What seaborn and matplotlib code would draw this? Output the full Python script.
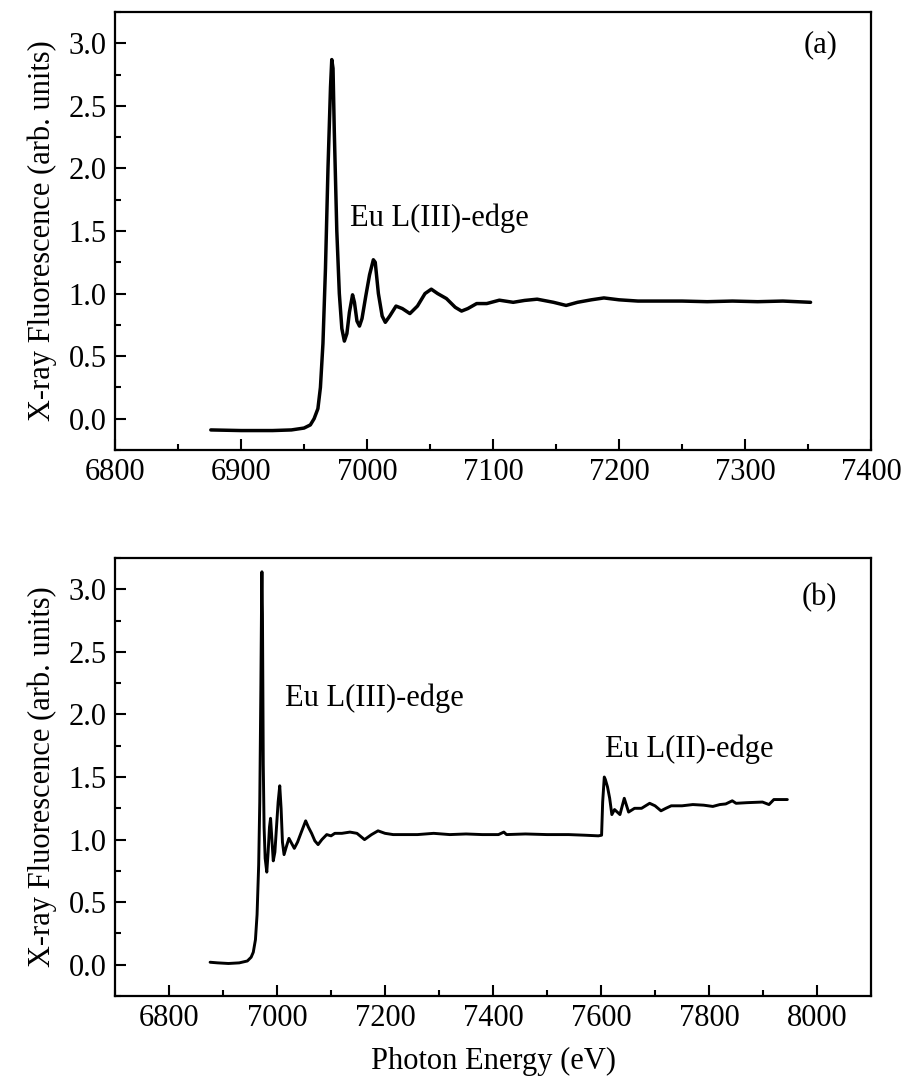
import numpy as np
import pandas as pd
import matplotlib
matplotlib.use("Agg")
import matplotlib.pyplot as plt
from matplotlib.ticker import MultipleLocator
import seaborn as sns

# ---- data ----
energy_a = [6876, 6900, 6925, 6940, 6950, 6955, 6958, 6961, 6963, 6965, 6967, 6969, 6971, 6972,
            6973, 6974, 6976, 6978, 6980, 6982, 6984, 6986, 6988.5, 6990, 6992, 6994, 6996, 6999,
            7002, 7005, 7006.5, 7009, 7012, 7014.5, 7018, 7023, 7028, 7034, 7040, 7046, 7051,
            7056, 7063, 7070, 7075, 7080, 7087, 7095, 7105, 7116, 7125, 7135, 7148, 7158, 7167,
            7178, 7188, 7200, 7215, 7230, 7250, 7270, 7290, 7310, 7330, 7352]
xrf_a = [-0.09, -0.095, -0.095, -0.09, -0.075, -0.05, 0.0, 0.08, 0.25, 0.6, 1.2, 2.0, 2.65, 2.87,
         2.8, 2.3, 1.5, 1.0, 0.72, 0.62, 0.68, 0.85, 0.99, 0.93, 0.78, 0.74, 0.8, 0.98,
         1.15, 1.27, 1.25, 1.0, 0.82, 0.77, 0.82, 0.9, 0.88, 0.84, 0.9, 1.0, 1.035,
         1.0, 0.96, 0.89, 0.86, 0.88, 0.92, 0.92, 0.947, 0.93, 0.945, 0.955, 0.93, 0.905, 0.93,
         0.95, 0.965, 0.95, 0.94, 0.94, 0.94, 0.935, 0.94, 0.935, 0.94, 0.93]

energy_b = [6876, 6890, 6910, 6930, 6945, 6952, 6956, 6960, 6963, 6966, 6968, 6970, 6971.5, 6972,
            6973, 6974.5, 6976, 6978, 6981, 6983.5, 6986, 6988, 6990.5, 6993, 6996, 6999, 7002,
            7005, 7007.5, 7010, 7013, 7017, 7022, 7027, 7032, 7038, 7045, 7053, 7058, 7064, 7070,
            7076, 7083, 7092, 7100, 7107, 7120, 7135, 7148, 7162, 7175, 7187, 7200, 7215, 7240,
            7260, 7290, 7320, 7350, 7380, 7410, 7420, 7425, 7460, 7500, 7540, 7570, 7595, 7601,
            7603, 7606, 7608, 7612, 7616, 7620, 7625, 7630, 7635, 7643, 7651, 7662, 7675, 7690,
            7700, 7711, 7720, 7730, 7750, 7770, 7790, 7807, 7820, 7831, 7843, 7850, 7870, 7899,
            7911, 7920, 7935, 7945]
xrf_b = [0.02, 0.015, 0.01, 0.015, 0.03, 0.06, 0.1, 0.2, 0.4, 0.8, 1.3, 2.2, 3.0, 3.14,
         2.8, 1.6, 1.1, 0.85, 0.74, 0.9, 1.1, 1.17, 1.0, 0.83, 0.9, 1.1, 1.3,
         1.43, 1.25, 0.98, 0.88, 0.94, 1.01, 0.97, 0.93, 0.98, 1.06, 1.15, 1.1, 1.05, 0.99,
         0.96, 1.0, 1.04, 1.03, 1.05, 1.05, 1.06, 1.05, 1.0, 1.04, 1.07, 1.05, 1.04, 1.04,
         1.04, 1.05, 1.04, 1.045, 1.04, 1.04, 1.06, 1.04, 1.045, 1.04, 1.04, 1.035, 1.03, 1.035,
         1.3, 1.5, 1.48, 1.42, 1.33, 1.2, 1.24, 1.22, 1.2, 1.33, 1.22, 1.25, 1.25, 1.29,
         1.27, 1.23, 1.25, 1.27, 1.27, 1.28, 1.275, 1.265, 1.28, 1.285, 1.31, 1.29, 1.295, 1.30,
         1.28, 1.32, 1.32, 1.32]

y_ticks = [0.0, 0.5, 1.0, 1.5, 2.0, 2.5, 3.0]
x_ticks_a = [6800, 6900, 7000, 7100, 7200, 7300, 7400]
x_ticks_b = [6800, 7000, 7200, 7400, 7600, 7800, 8000]

sns.set_style("ticks")
plt.rcParams["font.family"] = ["Liberation Serif", "DejaVu Serif"]
for key in ["text.color", "axes.labelcolor", "xtick.color", "ytick.color", "axes.edgecolor"]:
    plt.rcParams[key] = "black"
FS = 22

fig = plt.figure(figsize=(9.08, 10.85), dpi=100)
ax_a = fig.add_axes([0.1267, 0.5853, 0.8326, 0.4036])
ax_b = fig.add_axes([0.1267, 0.0820, 0.8326, 0.4037])

df_a = pd.DataFrame({"E": energy_a, "I": xrf_a})
df_b = pd.DataFrame({"E": energy_b, "I": xrf_b})
sns.lineplot(data=df_a, x="E", y="I", ax=ax_a, color="black", lw=2.5, sort=False, estimator=None)
sns.lineplot(data=df_b, x="E", y="I", ax=ax_b, color="black", lw=2.1, sort=False, estimator=None)

def style(ax, xlim, xticks, xminor):
    ax.set_xlim(*xlim)
    ax.set_ylim(-0.25, 3.25)
    ax.set_xticks(xticks)
    ax.set_xticklabels([str(t) for t in xticks])
    ax.set_yticks(y_ticks)
    ax.set_yticklabels([f"{t:.1f}" for t in y_ticks])
    ax.xaxis.set_minor_locator(MultipleLocator(xminor))
    ax.yaxis.set_minor_locator(MultipleLocator(0.25))
    ax.tick_params(which="both", direction="in", labelsize=FS, width=1.5, colors="black")
    ax.tick_params(which="major", length=8, pad=6)
    ax.tick_params(which="minor", length=4)
    for s in ax.spines.values():
        s.set_visible(True)
        s.set_linewidth(1.6)
        s.set_color("black")
    ax.set_ylabel("X-ray Fluorescence (arb. units)", fontsize=FS, labelpad=8, color="black")
    ax.set_xlabel("")

style(ax_a, (6800, 7400), x_ticks_a, 50)
style(ax_b, (6700, 8100), x_ticks_b, 100)
ax_b.set_xlabel("Photon Energy (eV)", fontsize=FS, labelpad=10, color="black")

ax_a.text(6986.5, 1.60, "Eu L(III)-edge", fontsize=FS, va="center", ha="left", color="black")
ax_a.text(0.955, 0.925, "(a)", transform=ax_a.transAxes, fontsize=FS, ha="right", va="center", color="black")
ax_b.text(7014, 2.13, "Eu L(III)-edge", fontsize=FS, va="center", ha="left", color="black")
ax_b.text(7608, 1.72, "Eu L(II)-edge", fontsize=FS, va="center", ha="left", color="black")
ax_b.text(0.955, 0.91, "(b)", transform=ax_b.transAxes, fontsize=FS, ha="right", va="center", color="black")

fig.savefig("out.png", dpi=100)
